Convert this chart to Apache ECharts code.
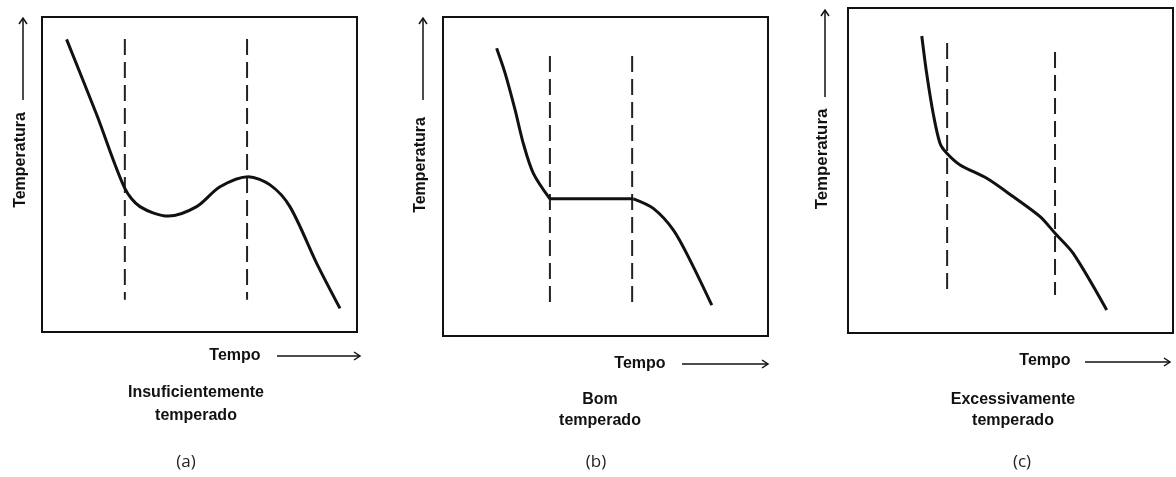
<!DOCTYPE html>
<html>
<head>
<meta charset="utf-8">
<title>Curvas de têmpera</title>
<script src="https://cdn.jsdelivr.net/npm/echarts@6/dist/echarts.min.js"></script>
<style>
  html, body { margin: 0; padding: 0; background: #fff; }
  #chart { width: 1176px; height: 477px; }
</style>
</head>
<body>
<div id="chart"></div>
<script>
// curvas em unidades relativas (0..100) de cada quadro
// (a) insuficientemente temperado
const aTempo = [7.8, 17.4, 26.3, 31.1, 40.1, 49.1, 56.5, 65.5, 72.4, 78.7, 87.2, 94.6]
const aTemp = [92.9, 68.9, 45.6, 39.8, 36.8, 39.8, 46.1, 49.3, 46.7, 39.8, 21.8, 7.5]
const aTracos = [26.3, 65.1]
const aTracoY = [93.0, 10.2]

// (b) bem temperado
const bTempo = [16.5, 19.1, 22.2, 24.7, 27.8, 32.9, 58.6, 64.7, 70.9, 76.0, 82.7]
const bTemp = [90.2, 82.4, 70.8, 60.4, 51.0, 43.0, 43.0, 40.0, 33.2, 23.8, 9.7]
const bTracos = [32.9, 58.2]
const bTracoY = [87.8, 9.1]

// (c) excessivamente temperado
const cTempo = [22.7, 24.2, 26.2, 28.3, 30.4, 34.5, 42.7, 50.9, 59.1, 63.7, 69.3, 79.6]
const cTemp = [91.4, 79.9, 67.6, 58.4, 55.3, 51.7, 47.6, 41.9, 35.8, 30.7, 24.5, 7.1]
const cTracos = [30.5, 63.7]
const cTracoY = [[89.2, 12.3], [86.5, 11.7]]

const legendas = ['(a)', '(b)', '(c)']
const tituloY = 'Temperatura'
const tituloX = 'Tempo'

const preto = '#111'
const chart = echarts.init(document.getElementById('chart'))

// quadros (posição em px)
const quadros = [
  { left: 42, top: 17, width: 315, height: 315 },
  { left: 443, top: 17, width: 325, height: 319 },
  { left: 848, top: 8, width: 325, height: 325 }
]

const grids = quadros.map(q => ({
  ...q,
  show: true,
  borderColor: preto,
  borderWidth: 2,
  backgroundColor: '#fff'
}))

const xAxes = quadros.map((q, i) => ({
  type: 'value', gridIndex: i, min: 0, max: 100, show: false
}))
const yAxes = quadros.map((q, i) => ({
  type: 'value', gridIndex: i, min: 0, max: 100, show: false
}))

const curva = (xs, ys, i) => ({
  type: 'line',
  xAxisIndex: i,
  yAxisIndex: i,
  data: xs.map((x, k) => [x, ys[k]]),
  smooth: 0.3,
  symbol: 'none',
  lineStyle: { color: preto, width: 3 },
  z: 3
})

const traco = (x, y0, y1, i) => ({
  type: 'line',
  xAxisIndex: i,
  yAxisIndex: i,
  data: [[x, y0], [x, y1]],
  symbol: 'none',
  lineStyle: { color: '#222', width: 2, type: [16, 7] },
  z: 2
})

// (b): a parte horizontal fica reta, separada das partes curvas
const series = [
  curva(aTempo, aTemp, 0),
  ...aTracos.map(x => traco(x, aTracoY[0], aTracoY[1], 0)),
  curva(bTempo.slice(0, 6), bTemp.slice(0, 6), 1),
  curva(bTempo.slice(5, 7), bTemp.slice(5, 7), 1),
  curva(bTempo.slice(6), bTemp.slice(6), 1),
  ...bTracos.map(x => traco(x, bTracoY[0], bTracoY[1], 1)),
  curva(cTempo, cTemp, 2),
  ...cTracos.map((x, k) => traco(x, cTracoY[k][0], cTracoY[k][1], 2))
]

// setas dos eixos
const setaH = (x1, x2, y) => [
  { type: 'line', shape: { x1: x1, y1: y, x2: x2, y2: y }, style: { stroke: preto, lineWidth: 1.5 } },
  { type: 'polyline', shape: { points: [[x2 - 6, y - 4], [x2, y], [x2 - 6, y + 4]] }, style: { stroke: preto, lineWidth: 1.5, fill: null } }
]
const setaV = (x, y1, y2) => [
  { type: 'line', shape: { x1: x, y1: y1, x2: x, y2: y2 }, style: { stroke: preto, lineWidth: 1.5 } },
  { type: 'polyline', shape: { points: [[x - 4, y2 + 6], [x, y2], [x + 4, y2 + 6]] }, style: { stroke: preto, lineWidth: 1.5, fill: null } }
]

const fonte = 'bold 16px "Liberation Sans", Arial, sans-serif'
const texto = (t, x, y, extra) => ({
  type: 'text',
  x: x,
  y: y,
  ...extra,
  style: { text: t, font: fonte, fill: preto, align: 'center', verticalAlign: 'middle' }
})

// textos e setas por quadro
const rotulos = [
  { ty: [21, 160, 1.0], seta: [23, 100, 18], tx: [235, 356], sx: [277, 360, 356], cap: ['Insuficientemente', 'temperado'], capX: 196, capY: [393, 416], lx: 186 },
  { ty: [421, 165, 1.0], seta: [423, 100, 18], tx: [640, 364], sx: [682, 768, 364], cap: ['Bom', 'temperado'], capX: 600, capY: [400, 421], lx: 596 },
  { ty: [823, 159, 1.05], seta: [825, 97, 10], tx: [1045, 361], sx: [1085, 1170, 362], cap: ['Excessivamente', 'temperado'], capX: 1013, capY: [400, 421], lx: 1022 }
]

const graphic = []
rotulos.forEach((r, i) => {
  graphic.push(texto(tituloY, r.ty[0], r.ty[1], { rotation: Math.PI / 2, scaleX: r.ty[2] }))
  graphic.push(...setaV(r.seta[0], r.seta[1], r.seta[2]))
  graphic.push(texto(tituloX, r.tx[0], r.tx[1]))
  graphic.push(...setaH(r.sx[0], r.sx[1], r.sx[2]))
  r.cap.forEach((c, k) => graphic.push(texto(c, r.capX, r.capY[k])))
  graphic.push({
    type: 'text',
    x: r.lx,
    y: 462,
    style: { text: legendas[i], font: '17px "Open Sans", "Noto Sans", sans-serif', fill: '#222', align: 'center', verticalAlign: 'middle' }
  })
})

chart.setOption({
  animation: false,
  backgroundColor: '#fff',
  grid: grids,
  xAxis: xAxes,
  yAxis: yAxes,
  series: series,
  graphic: graphic.map(g => ({ ...g, silent: true }))
})
</script>
</body>
</html>
